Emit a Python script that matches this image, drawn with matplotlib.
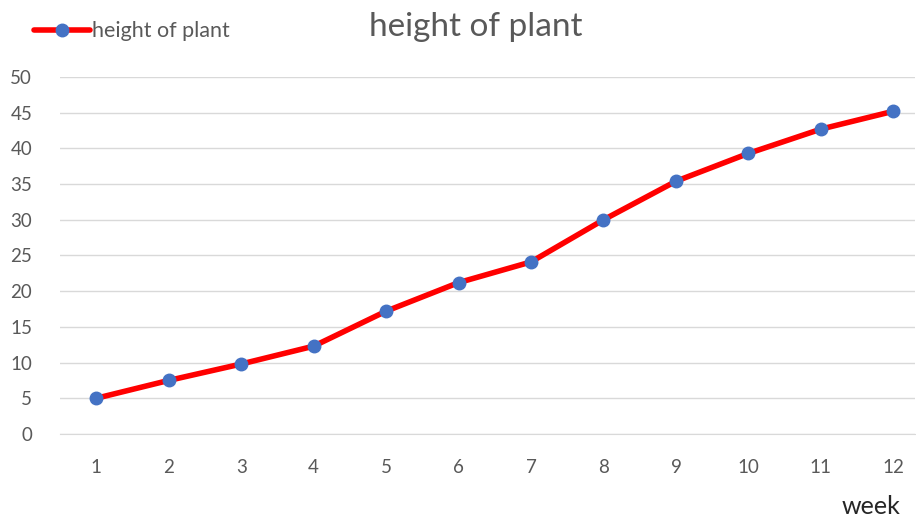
import matplotlib
matplotlib.use("Agg")
import matplotlib.pyplot as plt

weeks = [1, 2, 3, 4, 5, 6, 7, 8, 9, 10, 11, 12]
height = [5.0, 7.5, 9.8, 12.3, 17.2, 21.2, 24.1, 30.0, 35.4, 39.3, 42.7, 45.2]
yticks = [0, 5, 10, 15, 20, 25, 30, 35, 40, 45, 50]

plt.rcParams['font.family'] = ['Lato', 'DejaVu Sans']
txt = '#595959'

fig = plt.figure(figsize=(9.16, 5.22), dpi=100)
ax = fig.add_axes([0.0655, 0.1686, 0.9335, 0.6839])

ax.plot(weeks, height, color='#FF0000', linewidth=4, marker='o',
        markersize=9, markerfacecolor='#4472C4', markeredgecolor='#4472C4',
        label='height of plant', zorder=3, solid_capstyle='round')

ax.set_xlim(0.5, 12.3)
ax.set_ylim(0, 50)
ax.set_yticks(yticks)
ax.set_xticks(weeks)
ax.grid(axis='y', color='#D9D9D9', linewidth=1)
ax.set_axisbelow(True)
for s in ['top', 'right', 'left']:
    ax.spines[s].set_visible(False)
ax.spines['bottom'].set_color('#D9D9D9')
ax.tick_params(axis='both', length=0, labelsize=13.5, labelcolor=txt)
ax.tick_params(axis='y', pad=20)
ax.tick_params(axis='x', pad=18)

fig.text(0.519, 0.948, 'height of plant', ha='center', va='center',
         fontsize=24, color=txt)
fig.text(0.951, 0.008, 'week', ha='center', va='bottom', fontsize=18, color='#262626')

leg = fig.legend(loc='center left', bbox_to_anchor=(0.016, 0.94), frameon=False,
                 fontsize=15.5, handlelength=2.6, handletextpad=0.1, labelcolor=txt)

fig.savefig('out.png', dpi=100)
